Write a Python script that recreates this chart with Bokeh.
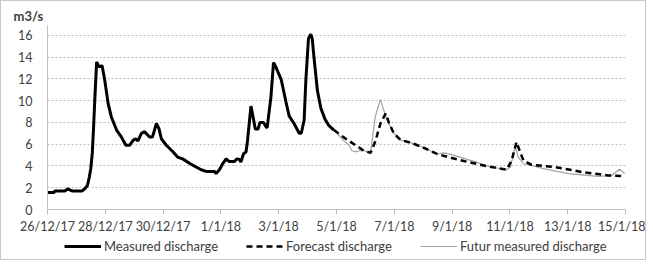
from bokeh.plotting import figure
from bokeh.layouts import column
from bokeh.models import Range1d, FixedTicker, Legend, LegendItem, Title
from bokeh.embed import file_html
from bokeh.resources import INLINE

# days since 26/12/17 00:00
measured_day = [0.0, 0.22, 0.26, 0.6, 0.71, 0.81, 0.88, 1.19, 1.29, 1.38, 1.45, 1.5, 1.55, 1.59,
                1.64, 1.70, 1.78, 1.89, 1.98, 2.10, 2.21, 2.39, 2.56, 2.71, 2.84, 2.96, 3.05,
                3.13, 3.25, 3.36, 3.53, 3.63, 3.77, 3.86, 3.94, 4.11, 4.34, 4.51, 4.68, 4.91,
                5.14, 5.32, 5.49, 5.78, 5.83, 5.95, 6.06, 6.18, 6.29, 6.47, 6.55, 6.64, 6.69,
                6.78, 6.87, 6.92, 6.98, 7.04, 7.12, 7.19, 7.29, 7.35, 7.47, 7.56, 7.60, 7.73,
                7.82, 7.90, 7.98, 8.09, 8.25, 8.36, 8.53, 8.71, 8.78, 8.88, 8.94, 9.03, 9.11,
                9.16, 9.22, 9.34, 9.46, 9.60, 9.74, 9.91]
measured_q = [1.55, 1.55, 1.7, 1.7, 1.9, 1.75, 1.7, 1.7, 1.9, 2.2, 3.0, 3.8, 5.2, 7.3,
              10.3, 13.55, 13.1, 13.2, 11.9, 9.7, 8.5, 7.3, 6.65, 5.9, 5.9, 6.35, 6.5,
              6.3, 7.0, 7.15, 6.65, 6.65, 7.9, 7.4, 6.5, 5.9, 5.3, 4.8, 4.65, 4.25,
              3.9, 3.65, 3.5, 3.5, 3.3, 3.65, 4.2, 4.65, 4.4, 4.4, 4.65, 4.6, 4.35,
              5.1, 5.3, 6.3, 7.9, 9.5, 8.4, 7.4, 7.4, 8.0, 8.0, 7.6, 7.5, 10.3,
              13.5, 13.1, 12.6, 11.9, 9.9, 8.6, 7.9, 7.0, 7.0, 8.2, 11.9, 15.7, 16.1,
              15.7, 14.0, 10.9, 9.3, 8.3, 7.7, 7.3]

forecast_day = [9.91, 10.32, 10.66, 10.95, 11.18, 11.35, 11.52, 11.70, 11.81, 11.98, 12.21,
                12.61, 13.08, 13.48, 13.88, 14.57, 15.26, 15.89, 16.06, 16.23, 16.35, 16.47,
                16.75, 17.56, 18.48, 19.40, 19.97]
forecast_q = [7.3, 6.5, 5.9, 5.4, 5.2, 6.3, 7.9, 8.8, 8.0, 7.0, 6.4,
              6.1, 5.6, 5.1, 4.8, 4.35, 3.95, 3.65, 4.5, 6.2, 5.3, 4.5,
              4.1, 3.9, 3.45, 3.13, 3.05]

future_day = [9.91, 10.26, 10.43, 10.54, 10.64, 10.78, 10.95, 11.18, 11.23, 11.34, 11.47,
              11.52, 11.60, 11.70, 11.81, 11.98, 12.21, 12.61, 13.08, 13.48, 13.71, 14.05,
              14.40, 14.84, 15.26, 15.89, 16.02, 16.18, 16.29, 16.47, 16.75, 17.16, 18.02,
              19.05, 19.51, 19.79, 19.97]
future_q = [7.3, 6.3, 5.9, 5.4, 5.3, 5.4, 5.4, 5.2, 6.3, 8.5, 9.7,
            10.1, 9.4, 8.6, 7.9, 7.0, 6.4, 6.1, 5.6, 5.1, 5.2, 5.0,
            4.7, 4.35, 3.95, 3.65, 3.9, 5.8, 4.8, 4.2, 4.05, 3.75, 3.3,
            3.05, 3.1, 3.7, 3.3]

tick_days = [0, 2, 4, 6, 8, 10, 12, 14, 16, 18, 20]
tick_labels = ["26/12/17", "28/12/17", "30/12/17", "1/1/18", "3/1/18", "5/1/18",
               "7/1/18", "9/1/18", "11/1/18", "13/1/18", "15/1/18"]
y_ticks = [0, 2, 4, 6, 8, 10, 12, 14, 16]
series_names = ["Measured discharge", "Forecast discharge", "Futur measured discharge"]

FONT = "Lato"
TXT = "#404040"
STYLES = [dict(line_color="black", line_width=3),
          dict(line_color="black", line_width=2.5, line_dash="6 4"),
          dict(line_color="#a0a0a0", line_width=1.2)]
SERIES = [(measured_day, measured_q), (forecast_day, forecast_q), (future_day, future_q)]

p = figure(frame_width=578, frame_height=184, x_range=Range1d(0, 20), y_range=Range1d(0, 16.9),
           output_backend="svg", toolbar_location=None,
           min_border_left=46, min_border_right=20, min_border_top=24, min_border_bottom=28)
p.outline_line_color = None
p.background_fill_color = "white"

p.xaxis.ticker = FixedTicker(ticks=tick_days)
p.xaxis.major_label_overrides = {d: l for d, l in zip(tick_days, tick_labels)}
p.xaxis.minor_tick_line_color = None
p.xaxis.major_tick_in = 0
p.xaxis.major_tick_out = 5
p.xaxis.axis_line_color = "#bfbfbf"
p.xaxis.major_tick_line_color = "#bfbfbf"
p.xaxis.major_label_standoff = 4

p.yaxis.ticker = FixedTicker(ticks=y_ticks)
p.yaxis.minor_tick_line_color = None
p.yaxis.major_tick_line_color = None
p.yaxis.axis_line_color = "#bfbfbf"
p.yaxis.major_label_standoff = 9

for ax in (p.xaxis, p.yaxis):
    ax.major_label_text_font = FONT
    ax.major_label_text_font_size = "12.5px"
    ax.major_label_text_color = TXT

p.xgrid.grid_line_color = None
p.ygrid.ticker = FixedTicker(ticks=y_ticks[1:])
p.ygrid.grid_line_color = "#bdbdbd"
p.ygrid.grid_line_dash = "2 2"
p.ygrid.grid_line_width = 1

# draw order: futur (grey) below, forecast, measured on top
for idx in (2, 1, 0):
    xs, ys = SERIES[idx]
    p.line(xs, ys, **STYLES[idx])

p.add_layout(Title(text="m3/s", align="left", offset=-34, text_font=FONT,
                   text_font_size="13px", text_font_style="bold", text_color=TXT,
                   standoff=4), "above")

# legend strip below the chart (its series lie outside its visible range)
pl = figure(width=644, height=22, x_range=Range1d(0, 20), y_range=Range1d(100, 101),
            output_backend="svg", toolbar_location=None,
            x_axis_type=None, y_axis_type=None,
            min_border_left=0, min_border_right=0, min_border_top=0, min_border_bottom=0)
pl.outline_line_color = None
pl.xgrid.grid_line_color = None
pl.ygrid.grid_line_color = None
items = []
for name, st, (xs, ys) in zip(series_names, STYLES, SERIES):
    r = pl.line(xs, ys, **st)
    items.append(LegendItem(label=name, renderers=[r]))
legend = Legend(items=items, orientation="horizontal", location=(17, 5),
                label_text_font=FONT, label_text_font_size="13px", label_text_color=TXT,
                glyph_width=37, glyph_height=14, label_height=14, label_standoff=3, spacing=28,
                padding=1, margin=0, border_line_color=None, background_fill_alpha=0)
pl.add_layout(legend, "center")

layout = column(p, pl, spacing=0, styles={"border": "1px solid #c8c8c8"})

open("out.html", "w").write(file_html(layout, INLINE))
